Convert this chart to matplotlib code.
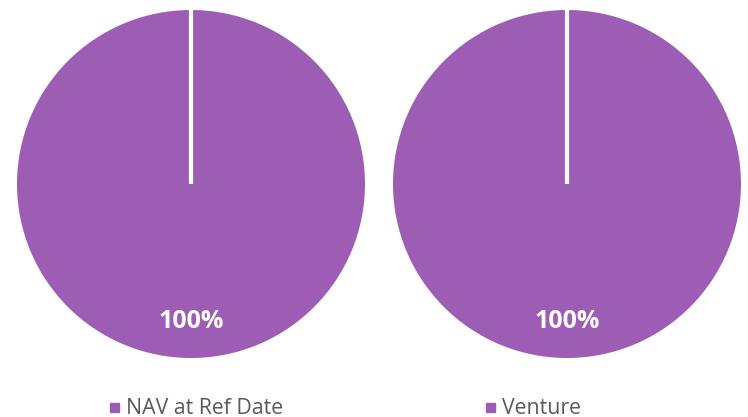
import matplotlib.pyplot as plt
from matplotlib.patches import Rectangle

# data
pie_titles = ["NAV at Ref Date", "Venture"]
pie_values = [[100], [100]]
pie_color = "#9e5db4"

W, H = 748, 417
fig = plt.figure(figsize=(W / 100, H / 100), dpi=100)
fig.patch.set_facecolor("white")

centers_x = [191, 567]
cy, r = 184, 174

for cx, title, vals in zip(centers_x, pie_titles, pie_values):
    ax = fig.add_axes([(cx - r) / W, (H - cy - r) / H, 2 * r / W, 2 * r / H])
    wedges, texts, autotexts = ax.pie(
        vals, colors=[pie_color], startangle=90, counterclock=False,
        autopct=lambda p: f"{p:.0f}%", pctdistance=0.79,
        wedgeprops=dict(linewidth=0),
        textprops=dict(color="white", fontsize=18, fontweight="bold",
                       family="Open Sans"))
    # white separator where the single slice starts
    ax.plot([0, 0], [0, 1.01], color="white", lw=3, solid_capstyle="butt")
    ax.set_xlim(-1, 1)
    ax.set_ylim(-1, 1)
    ax.set_aspect("equal")
    ax.axis("off")
    # legend entry below pie
    sx = cx - 81
    fig.patches.append(Rectangle((sx / W, (H - 412) / H), 9 / W, 9 / H,
                                 transform=fig.transFigure, color=pie_color))
    fig.text((sx + 16) / W, (H - 408) / H, title, color="#595959",
             fontsize=15.3, va="center", ha="left", family="Open Sans")

fig.savefig("out.png", dpi=100)
